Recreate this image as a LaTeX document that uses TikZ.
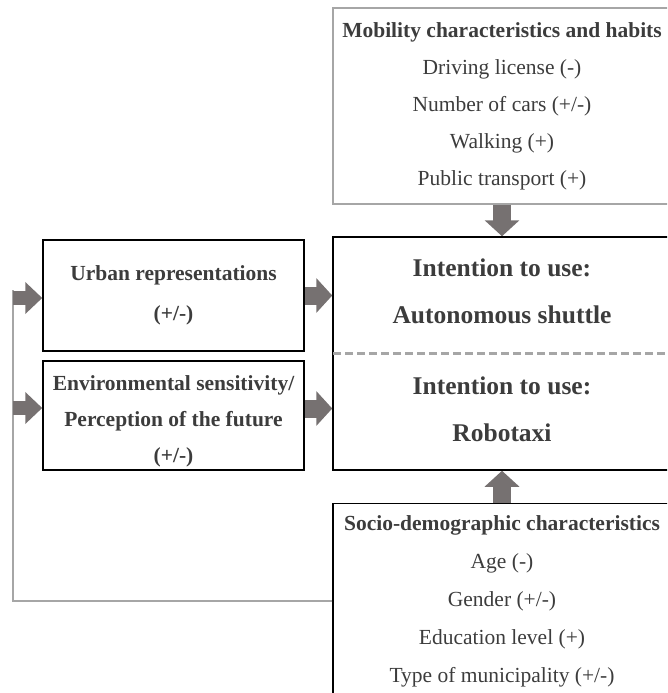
\documentclass[tikz,border=0pt]{standalone}
\usepackage{fontspec}
\setmainfont{Liberation Serif}
\usetikzlibrary{positioning,arrows.meta}
\definecolor{arrowgray}{RGB}{118,113,113}
\definecolor{linegray}{RGB}{166,166,166}
\definecolor{txtgray}{RGB}{60,60,60}

\begin{document}
\begin{tikzpicture}[
        x=1pt, y=-1pt,
        box/.style={
            draw,
            line width=1.5pt,
            rectangle,
            align=center,
            text=txtgray,
            inner sep=0pt
        },
        bigbox/.style={box, minimum width=338pt},
        sidebox/.style={box, minimum width=261pt},
        intenttext/.style={align=center, text=txtgray, inner sep=0pt,
            font=\fontsize{25.5}{47}\selectfont\bfseries},
        blk/.style={draw=arrowgray, line width=18pt, -{Triangle[width=34pt,length=16pt]}},
        blksmall/.style={draw=arrowgray, line width=14pt, -{Triangle[width=31pt,length=17pt]}},
        fb/.style={draw=linegray, line width=2.5pt},
        divider/.style={draw=linegray, line width=2.5pt, dash pattern=on 8pt off 4pt}
    ]
    \useasboundingbox (0,0) rectangle (667,693);
    \clip (0,0) rectangle (667,693);

    % Centre
    \node[bigbox, minimum height=233pt] (intent) at (502,353.5) {};
    \node[intenttext] (shuttle) at ([yshift=62pt]intent.center) {Intention to use:\\Autonomous shuttle};
    \node[intenttext] (robotaxi) at ([yshift=-56pt]intent.center) {Intention to use:\\Robotaxi};
    \draw[divider] ([xshift=1pt]intent.west) -- (intent.east);

    % Top and bottom
    \node[bigbox, draw=linegray, line width=2pt, minimum height=196pt,
        font=\fontsize{21.5}{37}\selectfont] (mob) [above=31pt of intent] {%
    \textbf{Mobility characteristics and habits}\\
    Driving license (-)\\
    Number of cars (+/-)\\
    Walking (+)\\
    Public transport (+)
    };

    \node[bigbox, minimum height=195pt,
        font=\fontsize{21.5}{38}\selectfont] (socio) [below=32pt of intent] {%
    \textbf{Socio-demographic characteristics}\\
    Age (-)\\
    Gender (+/-)\\
    Education level (+)\\
    Type of municipality (+/-)
    };

    % Left column
    \node[sidebox, minimum height=111pt,
        font=\fontsize{21.5}{40}\selectfont\bfseries] (urban) at (173.5,295.5) {%
    Urban representations\\
    (+/-)
    };

    \node[sidebox, minimum height=109pt,
        font=\fontsize{21.5}{36}\selectfont\bfseries] (env) at (173.5,415.5) {%
    \rule{0pt}{27pt}Environmental sensitivity/\\
    Perception of the future\\
    (+/-)
    };

    % Arrows
    \draw[blk] (mob) -- (intent);
    \draw[blk] (socio) -- (intent);
    \draw[blk] (urban) -- (urban -| intent.west);
    \draw[blk] ([yshift=7pt]env.east) -- ([yshift=7pt]env.east -| intent.west);

    % Feedback line
    \coordinate (fbtop) at (13,298);
    \coordinate (fbenv) at (13,408);
    \draw[fb] (socio.west) -| ([yshift=8pt]fbtop);
    \draw[blksmall] (fbtop) -- (fbtop -| urban.west);
    \draw[blksmall] (fbenv) -- (fbenv -| env.west);

\end{tikzpicture}
\end{document}
